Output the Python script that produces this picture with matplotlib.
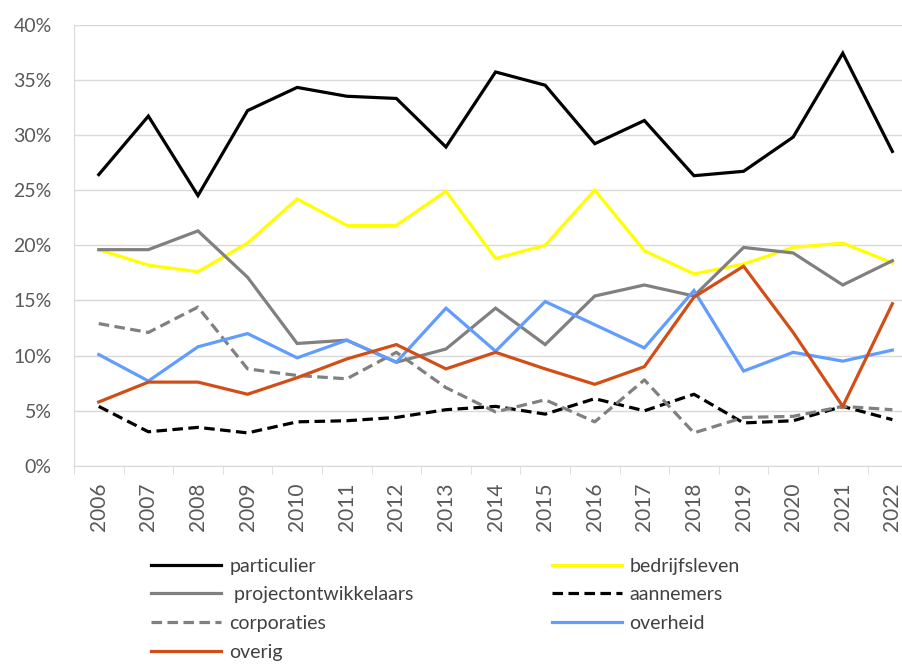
import matplotlib
matplotlib.use("Agg")
import matplotlib.pyplot as plt
import numpy as np
from matplotlib.ticker import FixedLocator, PercentFormatter

plt.rcParams["font.family"] = ["Lato", "DejaVu Sans"]

years = list(range(2006, 2023))

particulier = [26.4, 31.7, 24.5, 32.2, 34.3, 33.5, 33.3, 28.9, 35.7, 34.5, 29.2, 31.3, 26.3, 26.7, 29.8, 37.4, 28.5]
bedrijfsleven = [19.6, 18.2, 17.6, 20.2, 24.2, 21.8, 21.8, 24.9, 18.8, 20.0, 25.0, 19.5, 17.4, 18.3, 19.8, 20.2, 18.4]
projectontwikkelaars = [19.6, 19.6, 21.3, 17.1, 11.1, 11.4, 9.4, 10.6, 14.3, 11.0, 15.4, 16.4, 15.4, 19.8, 19.3, 16.4, 18.6]
aannemers = [5.4, 3.1, 3.5, 3.0, 4.0, 4.1, 4.4, 5.1, 5.4, 4.7, 6.1, 5.0, 6.5, 3.9, 4.1, 5.4, 4.2]
corporaties = [12.9, 12.1, 14.4, 8.8, 8.2, 7.9, 10.3, 7.1, 4.9, 6.0, 4.0, 7.8, 3.0, 4.4, 4.5, 5.4, 5.1]
overheid = [10.1, 7.7, 10.8, 12.0, 9.8, 11.4, 9.4, 14.3, 10.4, 14.9, 12.8, 10.7, 15.9, 8.6, 10.3, 9.5, 10.5]
overig = [5.8, 7.6, 7.6, 6.5, 8.0, 9.7, 11.0, 8.8, 10.3, 8.8, 7.4, 9.0, 15.3, 18.1, 12.1, 5.4, 14.7]

series = [
    ("particulier", particulier, "#000000", "-"),
    ("bedrijfsleven", bedrijfsleven, "#FFFF00", "-"),
    (" projectontwikkelaars", projectontwikkelaars, "#808080", "-"),
    ("aannemers", aannemers, "#000000", "--"),
    ("corporaties", corporaties, "#808080", "--"),
    ("overheid", overheid, "#619CFF", "-"),
    ("overig", overig, "#D24E16", "-"),
]

fig = plt.figure(figsize=(9.03, 6.64), dpi=100)
ax = fig.add_axes([0.0819, 0.2982, 0.9338, 0.6649])

x = np.arange(len(years))
handles = {}
for name, vals, color, ls in series:
    line, = ax.plot(x, vals, color=color, lw=2.3, solid_joinstyle="miter",
                    label=name)
    if ls == "--":
        line.set_dashes((3.3, 1.7))
    handles[name] = line

ax.set_xlim(-0.5, len(years) - 0.5)
ax.set_ylim(0, 40)
ax.yaxis.set_major_locator(FixedLocator(np.arange(0, 41, 5)))
ax.yaxis.set_major_formatter(PercentFormatter(decimals=0))
ax.grid(True, axis="y", color="#D9D9D9", lw=1)
ax.set_axisbelow(True)

ax.set_xticks(x)
ax.set_xticklabels([str(y) for y in years], rotation=90)
ax.set_xticks(np.arange(-0.5, len(years)), minor=True)
ax.tick_params(axis="x", which="major", length=0, pad=12, labelsize=15, labelcolor="#595959")
ax.tick_params(axis="x", which="minor", length=6, color="#D9D9D9", direction="out")
ax.tick_params(axis="y", length=0, labelsize=14, labelcolor="#595959", pad=16)

for side in ["top", "right"]:
    ax.spines[side].set_visible(False)
for side in ["left", "bottom"]:
    ax.spines[side].set_color("#D9D9D9")

order = ["particulier", " projectontwikkelaars", "corporaties", "overig",
         "bedrijfsleven", "aannemers", "overheid"]
fig.legend([handles[n] for n in order], order, ncol=2, frameon=False,
           loc="upper left", bbox_to_anchor=(0.159, 0.172), fontsize=14,
           handlelength=3.6, handletextpad=0.4, columnspacing=7.1,
           labelspacing=0.6, labelcolor="#404040", borderaxespad=0)

fig.savefig("out.png", dpi=100)
